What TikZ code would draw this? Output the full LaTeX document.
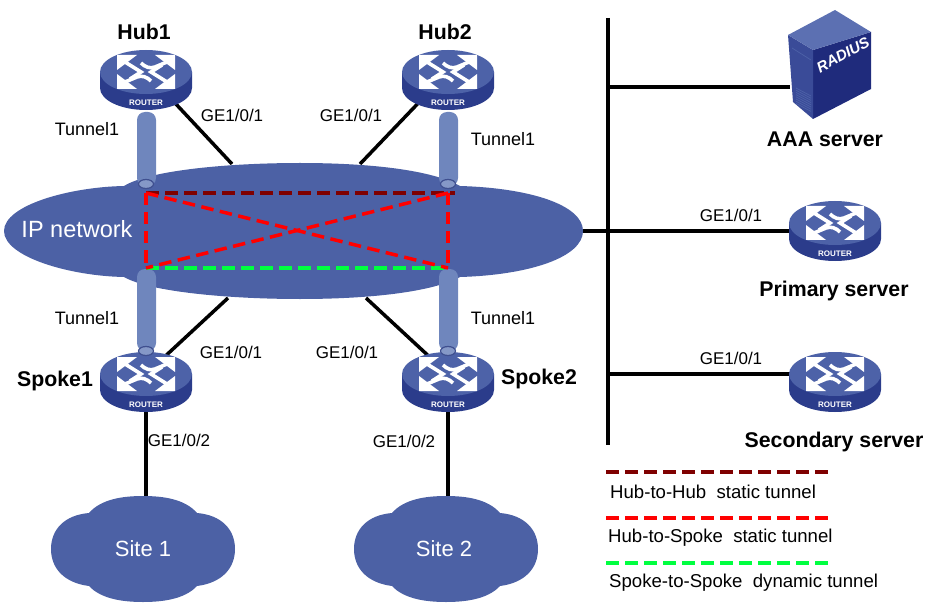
\documentclass[tikz,border=0pt]{standalone}
\usepackage{fontspec}
\setmainfont{Liberation Sans}
\usetikzlibrary{shapes.geometric}
\definecolor{cloudblue}{HTML}{4C61A5}
\definecolor{rtop}{HTML}{4D62A8}
\definecolor{rside}{HTML}{2B3C8B}
\definecolor{pillar}{HTML}{6F86BD}
\definecolor{pillarrim}{HTML}{3F4F8F}
\definecolor{hubhub}{HTML}{7F0000}
\definecolor{hubspoke}{HTML}{FF0000}
\definecolor{spokespoke}{HTML}{00FF40}
\definecolor{srvtop}{HTML}{5C70B2}
\definecolor{srvleft}{HTML}{3A4B98}
\definecolor{srvfront}{HTML}{1F2B7C}
\newcommand{\fs}[1]{\fontsize{#1}{#1}\selectfont}
\newcommand{\drawrouter}[1]{%
  \begin{scope}[shift={(#1)}]
    \fill[rside] (-46,0) -- (-46,16) arc[start angle=180,end angle=0,x radius=46,y radius=22] -- (46,0) -- cycle;
    \fill[rtop] (0,0) ellipse[x radius=46,y radius=22];
    \fill[white] (-29,-17) -- (-9,-17) -- (-29,-2) -- cycle;
    \fill[white] (29,-17) -- (9,-17) -- (29,-2) -- cycle;
    \fill[white] (-29,17) -- (-9,17) -- (-29,2) -- cycle;
    \fill[white] (29,17) -- (9,17) -- (29,2) -- cycle;
    \draw[white,line width=3.6] (-21,-10) -- (-5,0) -- (-16,7);
    \draw[white,line width=3.6] (21,10) -- (5,0) -- (16,-7);
    \draw[white,line width=3.6] (21,-10) -- (9,-5) .. controls (4,-3) and (-1,-5) .. (-5,-9);
    \draw[white,line width=3.6] (-21,10) -- (-9,5) .. controls (-4,3) and (1,5) .. (5,9);
    \node[text=white,inner sep=0pt] at (0,30.5) {\fs{8}\bfseries ROUTER};
  \end{scope}}
\newcommand{\drawsite}[1]{%
  \begin{scope}[shift={(#1)}]
    \fill[cloudblue] (-54,-36) .. controls (-42,-50) and (-20,-53) .. (0,-53)
      .. controls (20,-53) and (42,-50) .. (54,-36)
      .. controls (78,-34) and (92,-20) .. (92,0)
      .. controls (92,20) and (78,34) .. (54,37)
      .. controls (42,50) and (20,53) .. (0,53)
      .. controls (-20,53) and (-42,50) .. (-54,37)
      .. controls (-78,34) and (-92,20) .. (-92,0)
      .. controls (-92,-20) and (-78,-34) .. (-54,-36) -- cycle;
  \end{scope}}
\newcommand{\drawpillar}[3]{%
  \fill[pillar,rounded corners=8] (#1-9.5,#3) -- (#1-9.5,#2) -- (#1+9.5,#2) -- (#1+9.5,#3) -- cycle;}
\tikzset{
  lab/.style={inner sep=0pt,font=\fs{17}},
  tunlab/.style={inner sep=0pt,font=\fs{18}},
  boldlab/.style={inner sep=0pt,font=\fs{21.3}\bfseries},
  leglab/.style={inner sep=0pt,anchor=west,font=\fs{18.6}},
  cloudlab/.style={inner sep=0pt,text=white},
  wire/.style={line width=3.5,black},
  hh/.style={line width=3.5,hubhub,dash pattern=on 12.5 off 6.5},
  hs/.style={line width=3.5,hubspoke,dash pattern=on 12.5 off 6.5},
  ss/.style={line width=3.5,spokespoke,dash pattern=on 12.5 off 6.5},
  routerspot/.style={ellipse,minimum width=92,minimum height=58,inner sep=0pt},
  tunnelend/.style={ellipse,draw=pillarrim,fill=pillar!85!white,line width=1.2,minimum width=15,minimum height=9,inner sep=0pt},
}
\begin{document}
\begin{tikzpicture}[x=1pt,y=-1pt]
\useasboundingbox (0,0) rectangle (928,612);
% anchors
\node[routerspot] (hub1) at (146,72) {};
\node[routerspot] (hub2) at (448,72) {};
\node[routerspot] (spoke1) at (146,374) {};
\node[routerspot] (spoke2) at (448,374) {};
\node[routerspot] (primary) at (835,223) {};
\node[routerspot] (secondary) at (835,374) {};
\coordinate (radius) at (790,87);
\coordinate (prim) at (800,231);
\coordinate (cA) at (232,164);
\coordinate (cB) at (360,164);
\coordinate (cC) at (228,298);
\coordinate (cD) at (366,298);
\coordinate (cE) at (582,231);
\coordinate (busT) at (608,18);
\coordinate (busB) at (608,445);
\coordinate (busA) at (608,87);
\coordinate (busM) at (608,231);
\coordinate (busS) at (608,374);
\coordinate (site1top) at (146,498);
\coordinate (site2top) at (448,498);
\coordinate (n1) at (146,193);
\coordinate (n2) at (448,193);
\coordinate (n3) at (146,268);
\coordinate (n4) at (448,268);
% wires
\draw[wire] (hub1.center) -- (cA);
\draw[wire] (hub2.center) -- (cB);
\draw[wire] (spoke1.center) -- (cC);
\draw[wire] (spoke2.center) -- (cD);
\draw[wire] (spoke1.center) -- (site1top);
\draw[wire] (spoke2.center) -- (site2top);
\draw[wire] (busT) -- (busB);
\draw[wire] (cE) -- (prim);
\draw[wire] (busA) -- (radius);
\draw[wire] (busS) -- (secondary.center);
% IP cloud
\fill[cloudblue] (4,231) .. controls (4,205) and (70,187) .. (124,186)
  .. controls (150,170) and (230,163) .. (300,163)
  .. controls (370,163) and (432,170) .. (460,186)
  .. controls (530,188) and (583,205) .. (583,231)
  .. controls (583,257) and (530,275) .. (460,277)
  .. controls (432,292) and (370,299) .. (300,299)
  .. controls (230,299) and (150,292) .. (124,277)
  .. controls (70,276) and (4,257) .. (4,231) -- cycle;
\node[cloudlab,font=\fs{23.5}] (ipnet) at (77,229) {IP network};
% sites
\drawsite{143,549}
\drawsite{446,549}
\node[cloudlab,font=\fs{22}] (site1) at (143,549) {Site 1};
\node[cloudlab,font=\fs{22}] (site2) at (444,549) {Site 2};
% routers
\drawrouter{146,72}
\drawrouter{448,72}
\drawrouter{146,374}
\drawrouter{448,374}
\drawrouter{835,223}
\drawrouter{835,374}
% tunnels
\drawpillar{146.5}{112}{186}
\drawpillar{448.5}{112}{186}
\drawpillar{146.5}{269}{351}
\drawpillar{448.5}{269}{351}
\node[tunnelend] (t1) at (146,184) {};
\node[tunnelend] (t2) at (448,184) {};
\node[tunnelend] (t3) at (146,351) {};
\node[tunnelend] (t4) at (448,351) {};
% dashed tunnels
\draw[hh] (n1) -- (455,193);
\draw[ss] (n3) -- (n4);
\draw[hs] (n1) -- (n3);
\draw[hs] (n2) -- (n4);
\draw[hs] (n1) -- (n4);
\draw[hs] (n2) -- (n3);
% RADIUS server
\fill[srvfront] (813,50) -- (871,32) -- (871,89) -- (813,119) -- cycle;
\fill[srvleft] (788,35) -- (813,50) -- (813,119) -- (793,102) -- cycle;
\fill[srvtop] (788,35) -- (835,10) -- (871,32) -- (813,50) -- cycle;
\draw[rtop,line width=.7] (792,48) -- (811,60);
\foreach \k in {0,1,...,7}
  \draw[rtop,line width=.7] (796,{88+\k*2.2}) -- (811,{96+\k*2.2});
\node[inner sep=0pt,text=white,rotate=28,font=\fs{15}\bfseries\itshape] (radtext) at (843,55) {RADIUS};
% labels
\node[boldlab] (lh1) at (144,32) {Hub1};
\node[boldlab] (lh2) at (445,32) {Hub2};
\node[boldlab] (ls1) at (55,381) {Spoke1};
\node[boldlab] (ls2) at (539,379) {Spoke2};
\node[boldlab] (laaa) at (825,139) {AAA server};
\node[boldlab] (lpri) at (834,291) {Primary server};
\node[boldlab] (lsec) at (834,442) {Secondary server};
\node[tunlab] (g1) at (87,129) {Tunnel1};
\node[tunlab] (g2) at (503,139) {Tunnel1};
\node[tunlab] (g3) at (87,318) {Tunnel1};
\node[tunlab] (g4) at (503,318) {Tunnel1};
\node[lab] (g5) at (232,115) {GE1/0/1};
\node[lab] (g6) at (351,115) {GE1/0/1};
\node[lab] (g7) at (231,352) {GE1/0/1};
\node[lab] (g8) at (347,352) {GE1/0/1};
\node[lab] (g9) at (179,440) {GE1/0/2};
\node[lab] (g10) at (404,441) {GE1/0/2};
\node[lab] (g11) at (731,215) {GE1/0/1};
\node[lab] (g12) at (731,358) {GE1/0/1};
% legend
\coordinate (l1a) at (606,472); \coordinate (l1b) at (830,472);
\coordinate (l2a) at (606,518); \coordinate (l2b) at (830,518);
\coordinate (l3a) at (606,563); \coordinate (l3b) at (830,563);
\draw[hh] (l1a) -- (l1b);
\draw[hs] (l2a) -- (l2b);
\draw[ss] (l3a) -- (l3b);
\node[leglab] (t1x) at (610,492) {Hub-to-Hub\ \ static tunnel};
\node[leglab] (t2x) at (608,538) {Hub-to-Spoke\ \ static tunnel};
\node[leglab] (t3x) at (609,583) {Spoke-to-Spoke\ \ dynamic tunnel};
\end{tikzpicture}
\end{document}
